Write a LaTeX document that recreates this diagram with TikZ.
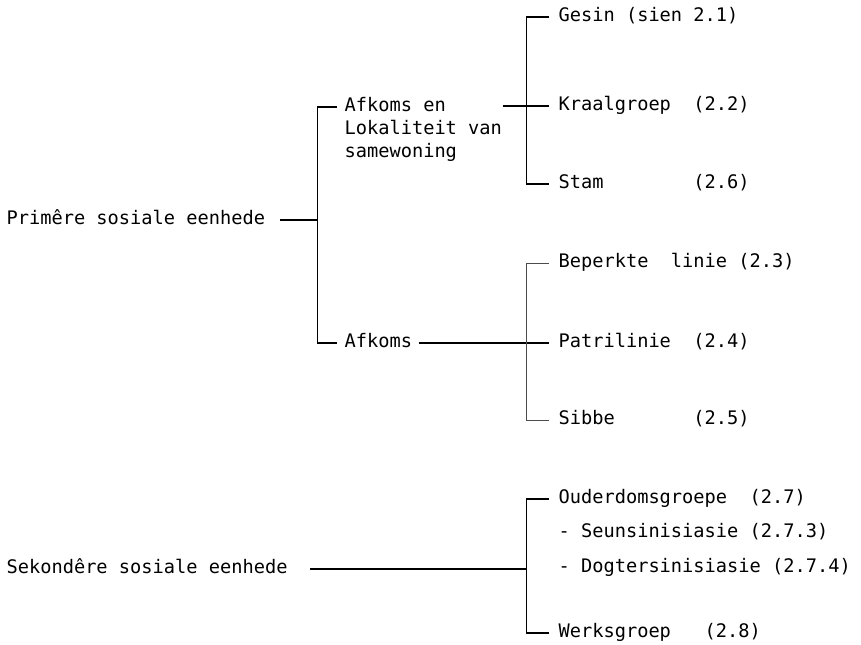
\documentclass[tikz,border=0pt]{standalone}
\usepackage{fontspec}
\newfontfamily\typewriter{DejaVu Sans Mono}
\begin{document}
\begin{tikzpicture}[x=0.75pt,y=-0.75pt,line width=0.9pt,
  lbl/.style={anchor=west,inner sep=0pt,text height=10pt,text depth=3pt,font=\typewriter\fontsize{14}{17}\selectfont}]
\useasboundingbox (0,0) rectangle (861,644);
\node[lbl] (prim) at (6,220) {Primêre sosiale eenhede};
\node[lbl] (sek) at (6,569) {Sekondêre sosiale eenhede};
\node[lbl] (alk1) at (344,107) {Afkoms en};
\node[lbl] (alk2) at (344,130) {Lokaliteit van};
\node[lbl] (alk3) at (344,153) {samewoning};
\node[lbl] (afk) at (344,343) {Afkoms};
\node[lbl] (gesin) at (558,17) {Gesin (sien 2.1)};
\node[lbl] (kraal) at (558,106) {Kraalgroep\ \ (2.2)};
\node[lbl] (stam) at (558,184) {Stam\ \ \ \ \ \ \ \ (2.6)};
\node[lbl] (beperk) at (558,263) {Beperkte\ \ linie (2.3)};
\node[lbl] (patri) at (558,343) {Patrilinie\ \ (2.4)};
\node[lbl] (sibbe) at (558,420) {Sibbe\ \ \ \ \ \ \ (2.5)};
\node[lbl] (ouder) at (558,499) {Ouderdomsgroepe\ \ (2.7)};
\node[lbl] (seuns) at (558,533) {- Seunsinisiasie (2.7.3)};
\node[lbl] (dogter) at (558,568) {- Dogtersinisiasie (2.7.4)};
\node[lbl] (werk) at (558,633) {Werksgroep\ \ \ (2.8)};
\coordinate (spine1) at ([xshift=-20pt]alk1.west);
\coordinate (spine3) at ([xshift=-23.5pt]ouder.west);
\draw ([xshift=-5pt]alk1.west) -- (spine1) |- ([xshift=-5pt]afk.west);
\draw ([xshift=11pt]prim.east) -- (prim.east -| spine1);
\draw (alk2.east |- kraal.west) -- ([xshift=-7pt]kraal.west);
\draw ([xshift=5pt]afk.east) -- ([xshift=-7pt]patri.west);
\draw ([xshift=-7pt]gesin.west) -- ++(-16.5pt,0) |- ([xshift=-7pt]stam.west);
\draw[line width=0.5pt,black!70] ([xshift=-7pt]beperk.west) -- ++(-16.5pt,0) |- ([xshift=-7pt]sibbe.west);
\draw ([xshift=-7pt]ouder.west) -- (spine3) |- ([xshift=-7pt]werk.west);
\draw ([xshift=16.5pt]sek.east) -- (sek.east -| spine3);
\end{tikzpicture}
\end{document}
